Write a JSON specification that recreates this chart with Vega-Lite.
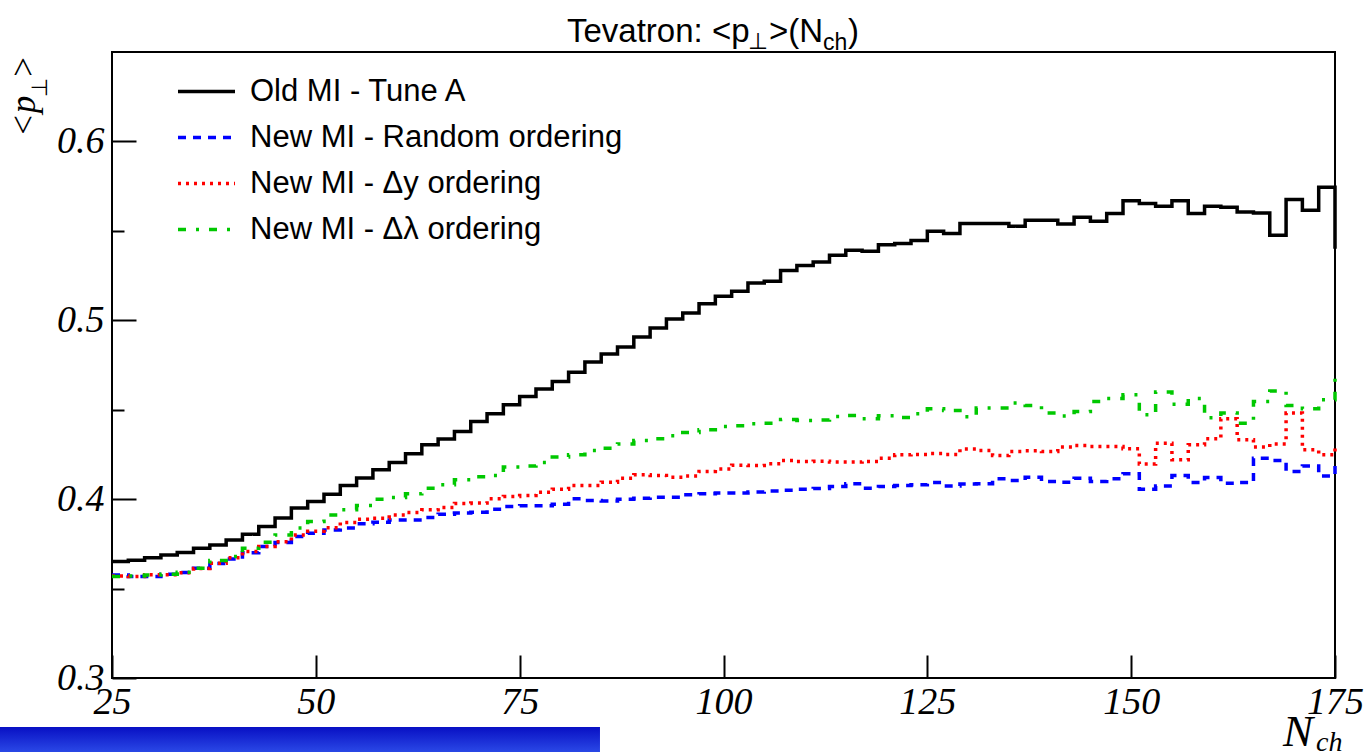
{
  "$schema": "https://vega.github.io/schema/vega-lite/v6.json",
  "width": 1223,
  "height": 626,
  "autosize": {"type": "none"},
  "padding": {"left": 112, "top": 52, "right": 32, "bottom": 74},
  "background": "white",
  "config": {
    "font": "Liberation Sans",
    "view": {"stroke": "black", "strokeWidth": 2},
    "axis": {
      "domain": false,
      "grid": false,
      "tickColor": "black",
      "tickWidth": 2,
      "labelFont": "Liberation Serif",
      "labelFontStyle": "italic",
      "labelFontSize": 38,
      "labelColor": "black",
      "labelFlush": false,
      "labelOverlap": false
    }
  },
  "layer": [
    {
      "data": {
        "values": [
          {"N": 25, "a": 0.3651, "b": 0.3576, "c": 0.3570, "d": 0.3567},
          {"N": 27, "a": 0.3659, "b": 0.3567, "c": 0.3567, "d": 0.3570},
          {"N": 29, "a": 0.3673, "b": 0.3567, "c": 0.3577, "d": 0.3576},
          {"N": 31, "a": 0.3688, "b": 0.3580, "c": 0.3577, "d": 0.3580},
          {"N": 33, "a": 0.3701, "b": 0.3590, "c": 0.3589, "d": 0.3591},
          {"N": 35, "a": 0.3726, "b": 0.3614, "c": 0.3612, "d": 0.3614},
          {"N": 37, "a": 0.3744, "b": 0.3640, "c": 0.3642, "d": 0.3657},
          {"N": 39, "a": 0.3772, "b": 0.3666, "c": 0.3673, "d": 0.3679},
          {"N": 41, "a": 0.3804, "b": 0.3700, "c": 0.3707, "d": 0.3726},
          {"N": 43, "a": 0.3847, "b": 0.3735, "c": 0.3735, "d": 0.3759},
          {"N": 45, "a": 0.3894, "b": 0.3757, "c": 0.3762, "d": 0.3800},
          {"N": 47, "a": 0.3950, "b": 0.3791, "c": 0.3800, "d": 0.3838},
          {"N": 49, "a": 0.3987, "b": 0.3810, "c": 0.3820, "d": 0.3875},
          {"N": 51, "a": 0.4028, "b": 0.3828, "c": 0.3840, "d": 0.3912},
          {"N": 53, "a": 0.4076, "b": 0.3838, "c": 0.3870, "d": 0.3940},
          {"N": 55, "a": 0.4118, "b": 0.3862, "c": 0.3888, "d": 0.3964},
          {"N": 57, "a": 0.4164, "b": 0.3871, "c": 0.3893, "d": 0.4000},
          {"N": 59, "a": 0.4205, "b": 0.3884, "c": 0.3912, "d": 0.4009},
          {"N": 61, "a": 0.4254, "b": 0.3884, "c": 0.3925, "d": 0.4030},
          {"N": 63, "a": 0.4304, "b": 0.3897, "c": 0.3940, "d": 0.4061},
          {"N": 65, "a": 0.4336, "b": 0.3916, "c": 0.3953, "d": 0.4080},
          {"N": 67, "a": 0.4378, "b": 0.3922, "c": 0.3976, "d": 0.4108},
          {"N": 69, "a": 0.4434, "b": 0.3927, "c": 0.3978, "d": 0.4125},
          {"N": 71, "a": 0.4477, "b": 0.3943, "c": 0.4002, "d": 0.4132},
          {"N": 73, "a": 0.4528, "b": 0.3959, "c": 0.4015, "d": 0.4180},
          {"N": 75, "a": 0.4574, "b": 0.3963, "c": 0.4020, "d": 0.4185},
          {"N": 77, "a": 0.4616, "b": 0.3963, "c": 0.4039, "d": 0.4205},
          {"N": 79, "a": 0.4658, "b": 0.3972, "c": 0.4056, "d": 0.4235},
          {"N": 81, "a": 0.4709, "b": 0.4002, "c": 0.4076, "d": 0.4248},
          {"N": 83, "a": 0.4767, "b": 0.3992, "c": 0.4076, "d": 0.4272},
          {"N": 85, "a": 0.4811, "b": 0.3990, "c": 0.4095, "d": 0.4285},
          {"N": 87, "a": 0.4851, "b": 0.4000, "c": 0.4117, "d": 0.4308},
          {"N": 89, "a": 0.4907, "b": 0.4005, "c": 0.4136, "d": 0.4328},
          {"N": 91, "a": 0.4957, "b": 0.4010, "c": 0.4132, "d": 0.4337},
          {"N": 93, "a": 0.5007, "b": 0.4010, "c": 0.4123, "d": 0.4354},
          {"N": 95, "a": 0.5041, "b": 0.4025, "c": 0.4130, "d": 0.4372},
          {"N": 97, "a": 0.5093, "b": 0.4030, "c": 0.4155, "d": 0.4388},
          {"N": 99, "a": 0.5134, "b": 0.4035, "c": 0.4168, "d": 0.4406},
          {"N": 101, "a": 0.5162, "b": 0.4035, "c": 0.4190, "d": 0.4410},
          {"N": 103, "a": 0.5209, "b": 0.4040, "c": 0.4188, "d": 0.4421},
          {"N": 105, "a": 0.5218, "b": 0.4045, "c": 0.4198, "d": 0.4425},
          {"N": 107, "a": 0.5279, "b": 0.4050, "c": 0.4216, "d": 0.4445},
          {"N": 109, "a": 0.5306, "b": 0.4055, "c": 0.4210, "d": 0.4440},
          {"N": 111, "a": 0.5326, "b": 0.4060, "c": 0.4212, "d": 0.4443},
          {"N": 113, "a": 0.5363, "b": 0.4070, "c": 0.4207, "d": 0.4462},
          {"N": 115, "a": 0.5391, "b": 0.4086, "c": 0.4207, "d": 0.4468},
          {"N": 117, "a": 0.5386, "b": 0.4061, "c": 0.4211, "d": 0.4449},
          {"N": 119, "a": 0.5423, "b": 0.4071, "c": 0.4229, "d": 0.4466},
          {"N": 121, "a": 0.5429, "b": 0.4076, "c": 0.4248, "d": 0.4457},
          {"N": 123, "a": 0.5446, "b": 0.4080, "c": 0.4250, "d": 0.4478},
          {"N": 125, "a": 0.5498, "b": 0.4093, "c": 0.4255, "d": 0.4505},
          {"N": 127, "a": 0.5485, "b": 0.4074, "c": 0.4250, "d": 0.4496},
          {"N": 129, "a": 0.5541, "b": 0.4085, "c": 0.4280, "d": 0.4460},
          {"N": 131, "a": 0.5541, "b": 0.4086, "c": 0.4272, "d": 0.4509},
          {"N": 133, "a": 0.5541, "b": 0.4114, "c": 0.4244, "d": 0.4509},
          {"N": 135, "a": 0.5526, "b": 0.4104, "c": 0.4267, "d": 0.4537},
          {"N": 137, "a": 0.5559, "b": 0.4123, "c": 0.4270, "d": 0.4524},
          {"N": 139, "a": 0.5559, "b": 0.4099, "c": 0.4267, "d": 0.4481},
          {"N": 141, "a": 0.5539, "b": 0.4095, "c": 0.4291, "d": 0.4465},
          {"N": 143, "a": 0.5576, "b": 0.4117, "c": 0.4300, "d": 0.4490},
          {"N": 145, "a": 0.5554, "b": 0.4099, "c": 0.4295, "d": 0.4546},
          {"N": 147, "a": 0.5597, "b": 0.4114, "c": 0.4295, "d": 0.4563},
          {"N": 149, "a": 0.5669, "b": 0.4142, "c": 0.4282, "d": 0.4584},
          {"N": 151, "a": 0.5653, "b": 0.4056, "c": 0.4196, "d": 0.4472},
          {"N": 153, "a": 0.5637, "b": 0.4074, "c": 0.4313, "d": 0.4599},
          {"N": 155, "a": 0.5669, "b": 0.4132, "c": 0.4220, "d": 0.4531},
          {"N": 157, "a": 0.5597, "b": 0.4093, "c": 0.4304, "d": 0.4563},
          {"N": 159, "a": 0.5637, "b": 0.4121, "c": 0.4337, "d": 0.4455},
          {"N": 161, "a": 0.5632, "b": 0.4089, "c": 0.4449, "d": 0.4481},
          {"N": 163, "a": 0.5606, "b": 0.4093, "c": 0.4332, "d": 0.4425},
          {"N": 165, "a": 0.5600, "b": 0.4229, "c": 0.4291, "d": 0.4546},
          {"N": 167, "a": 0.5475, "b": 0.4216, "c": 0.4309, "d": 0.4604},
          {"N": 169, "a": 0.5675, "b": 0.4155, "c": 0.4481, "d": 0.4524},
          {"N": 171, "a": 0.5615, "b": 0.4186, "c": 0.4276, "d": 0.4505},
          {"N": 173, "a": 0.5744, "b": 0.4130, "c": 0.4248, "d": 0.4556},
          {"N": 175, "a": 0.5400, "b": 0.4192, "c": 0.4285, "d": 0.4724}
        ]
      },
      "transform": [{"fold": ["a", "b", "c", "d"], "as": ["s", "p"]}],
      "mark": {"type": "line", "interpolate": "step-after", "strokeWidth": 3.5, "strokeCap": "butt"},
      "encoding": {
        "x": {
          "field": "N", "type": "quantitative",
          "scale": {"domain": [25, 175], "nice": false, "zero": false},
          "axis": {"title": null, "values": [25, 50, 75, 100, 125, 150, 175], "tickSize": -23, "labelPadding": 28, "format": "d"}
        },
        "y": {
          "field": "p", "type": "quantitative",
          "scale": {"domain": [0.3, 0.65], "nice": false, "zero": false},
          "axis": {
            "title": null,
            "values": [0.3, 0.35, 0.4, 0.45, 0.5, 0.55, 0.6],
            "tickSize": {"condition": {"test": "round(datum.value*100) % 10 == 0", "value": -24}, "value": -12},
            "labelPadding": 32,
            "labelExpr": "round(datum.value*100) % 10 == 0 ? format(datum.value, '.1f') : ''"
          }
        },
        "color": {
          "field": "s", "type": "nominal",
          "scale": {"domain": ["a", "b", "c", "d"], "range": ["#000000", "#0000ff", "#ff0000", "#00c800"]},
          "legend": {
            "orient": "none", "legendX": 64, "legendY": 9, "title": null,
            "symbolType": "stroke", "symbolSize": 3249, "symbolStrokeWidth": 3.5,
            "labelFont": "Liberation Sans", "labelFontSize": 31, "labelColor": "black", "labelLimit": 1000,
            "labelOffset": 13, "rowPadding": -22, "padding": 0,
            "labelExpr": "datum.label == 'a' ? 'Old MI - Tune A' : datum.label == 'b' ? 'New MI - Random ordering' : datum.label == 'c' ? 'New MI - Δy ordering' : 'New MI - Δλ ordering'"
          }
        },
        "strokeDash": {
          "field": "s", "type": "nominal",
          "scale": {"domain": ["a", "b", "c", "d"], "range": [[1, 0], [8, 7], [3, 5], [8, 10, 3, 10]]},
          "legend": {
            "orient": "none", "legendX": 64, "legendY": 9, "title": null,
            "symbolType": "stroke", "symbolSize": 3249, "symbolStrokeWidth": 3.5,
            "labelFont": "Liberation Sans", "labelFontSize": 31, "labelColor": "black", "labelLimit": 1000,
            "labelOffset": 13, "rowPadding": -22, "padding": 0,
            "labelExpr": "datum.label == 'a' ? 'Old MI - Tune A' : datum.label == 'b' ? 'New MI - Random ordering' : datum.label == 'c' ? 'New MI - Δy ordering' : 'New MI - Δλ ordering'"
          }
        }
      }
    },
    {
      "data": {"values": [{}]},
      "mark": {
        "type": "rect",
        "clip": false,
        "fill": {
          "gradient": "linear",
          "x1": 0, "y1": 0, "x2": 0, "y2": 1,
          "stops": [
            {"offset": 0, "color": "#0810c4"},
            {"offset": 1, "color": "#2a48e6"}
          ]
        }
      },
      "encoding": {
        "x": {"datum": 11.263, "type": "quantitative"},
        "x2": {"datum": 84.85},
        "y": {"datum": 0.27258, "type": "quantitative"},
        "y2": {"datum": 0.2586}
      }
    },
    {
      "data": {"values": [{}]},
      "layer": [
        {
          "mark": {"type": "text", "text": "Tevatron: <p", "font": "Liberation Sans", "fontSize": 33, "align": "left", "baseline": "alphabetic", "color": "black"},
          "encoding": {
            "x": {"datum": 80.805, "type": "quantitative"},
            "y": {"datum": 0.6556, "type": "quantitative"}
          }
        },
        {
          "mark": {"type": "text", "text": "⊥", "font": "Liberation Sans", "fontSize": 23, "align": "left", "baseline": "alphabetic", "color": "black"},
          "encoding": {
            "x": {"datum": 103.0, "type": "quantitative"},
            "y": {"datum": 0.6517, "type": "quantitative"}
          }
        },
        {
          "mark": {"type": "text", "text": ">(N", "font": "Liberation Sans", "fontSize": 33, "align": "left", "baseline": "alphabetic", "color": "black"},
          "encoding": {
            "x": {"datum": 105.58, "type": "quantitative"},
            "y": {"datum": 0.6556, "type": "quantitative"}
          }
        },
        {
          "mark": {"type": "text", "text": "ch", "font": "Liberation Sans", "fontSize": 23, "align": "left", "baseline": "alphabetic", "color": "black"},
          "encoding": {
            "x": {"datum": 112.2, "type": "quantitative"},
            "y": {"datum": 0.6511, "type": "quantitative"}
          }
        },
        {
          "mark": {"type": "text", "text": ")", "font": "Liberation Sans", "fontSize": 33, "align": "left", "baseline": "alphabetic", "color": "black"},
          "encoding": {
            "x": {"datum": 115.27, "type": "quantitative"},
            "y": {"datum": 0.6556, "type": "quantitative"}
          }
        },
        {
          "mark": {"type": "text", "text": "<p", "font": "Liberation Serif", "fontStyle": "italic", "fontSize": 35, "angle": 270, "align": "left", "baseline": "alphabetic", "color": "black"},
          "encoding": {
            "x": {"datum": 15.556, "type": "quantitative"},
            "y": {"datum": 0.6025, "type": "quantitative"}
          }
        },
        {
          "mark": {"type": "text", "text": "⊥", "font": "Liberation Serif", "fontSize": 22, "angle": 270, "align": "left", "baseline": "alphabetic", "color": "black"},
          "encoding": {
            "x": {"datum": 17.028, "type": "quantitative"},
            "y": {"datum": 0.6248, "type": "quantitative"}
          }
        },
        {
          "mark": {"type": "text", "text": ">", "font": "Liberation Serif", "fontStyle": "italic", "fontSize": 35, "angle": 270, "align": "left", "baseline": "alphabetic", "color": "black"},
          "encoding": {
            "x": {"datum": 15.556, "type": "quantitative"},
            "y": {"datum": 0.6349, "type": "quantitative"}
          }
        },
        {
          "mark": {"type": "text", "text": "N", "font": "Liberation Serif", "fontStyle": "italic", "fontSize": 45, "align": "left", "baseline": "alphabetic", "color": "black"},
          "encoding": {
            "x": {"datum": 168.62, "type": "quantitative"},
            "y": {"datum": 0.2620, "type": "quantitative"}
          }
        },
        {
          "mark": {"type": "text", "text": "ch", "font": "Liberation Serif", "fontStyle": "italic", "fontSize": 28, "align": "left", "baseline": "alphabetic", "color": "black"},
          "encoding": {
            "x": {"datum": 172.67, "type": "quantitative"},
            "y": {"datum": 0.25919, "type": "quantitative"}
          }
        }
      ]
    }
  ]
}
